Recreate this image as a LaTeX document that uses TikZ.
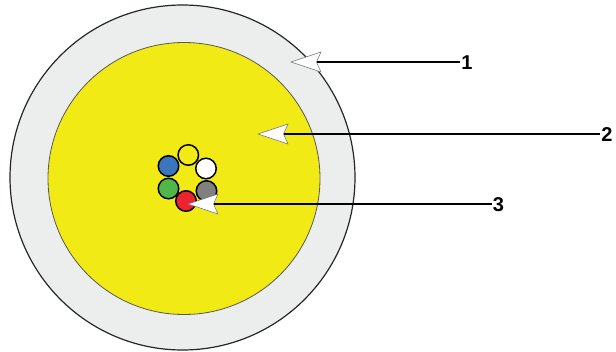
\documentclass[tikz,border=0pt]{standalone}
\usepackage{fontspec}
\setmainfont{Liberation Sans}
\definecolor{sheath}{HTML}{ECEEEE}
\definecolor{gel}{HTML}{F1EA14}
\definecolor{fblue}{HTML}{3B76BC}
\definecolor{fgreen}{HTML}{4FB748}
\definecolor{fgray}{HTML}{808080}
\definecolor{fred}{HTML}{EE2330}
\tikzset{
  x=1pt,y=-1pt,
  fibre/.style={circle,draw=black,line width=1.5pt,minimum size=20.5pt,inner sep=0pt},
  lbl/.style={font=\fontsize{20}{20}\selectfont\bfseries,inner sep=0pt,text=black},
  leader/.style={draw=black},
  head/.style={draw=black!55,line width=0.5pt,fill=white,line join=miter}
}
\newcommand{\arrowhead}[1]{%
  \draw[head] (#1) ++(-26,0) -- ++(30,-10) -- ++(-4.5,10) -- ++(4.5,10) -- cycle;}
\begin{document}
\begin{tikzpicture}
\useasboundingbox (0,0) rectangle (616,351);
\fill[white] (0,0) rectangle (616,351);
\node[circle,draw=black!85,line width=1.2pt,fill=sheath,minimum size=345pt,inner sep=0pt] (outer) at (182.5,177.5) {};
\node[circle,draw=black!65,line width=0.8pt,fill=gel,minimum size=272pt,inner sep=0pt] (core) at (184,178.5) {};
\node[fibre,fill=gel] (fy) at (188.3,155) {};
\node[fibre,fill=white] (fw) at (206,168.5) {};
\node[fibre,fill=fblue] (fb) at (168.5,166) {};
\node[fibre,fill=fgreen] (fg) at (168.5,188.5) {};
\node[fibre,fill=fgray] (fk) at (206.5,191) {};
\node[fibre,fill=fred] (fr) at (186,201) {};
\node[lbl] (l1) at (467,62.5) {1};
\node[lbl] (l2) at (607,134.5) {2};
\node[lbl] (l3) at (498.5,205) {3};
\coordinate (n1) at (317,62);
\coordinate (n2) at (284,134);
\coordinate (n3) at (214,204);
\draw[leader,line width=1.8pt] (l1.west |- n1) ++(-1,0) -- (n1);
\draw[leader,line width=1.3pt] (l2.west |- n2) ++(-1,0) -- (n2);
\draw[leader,line width=1.8pt] (l3.west |- n3) ++(-1,0) -- (n3);
\arrowhead{n1}
\arrowhead{n2}
\arrowhead{n3}
\end{tikzpicture}
\end{document}
